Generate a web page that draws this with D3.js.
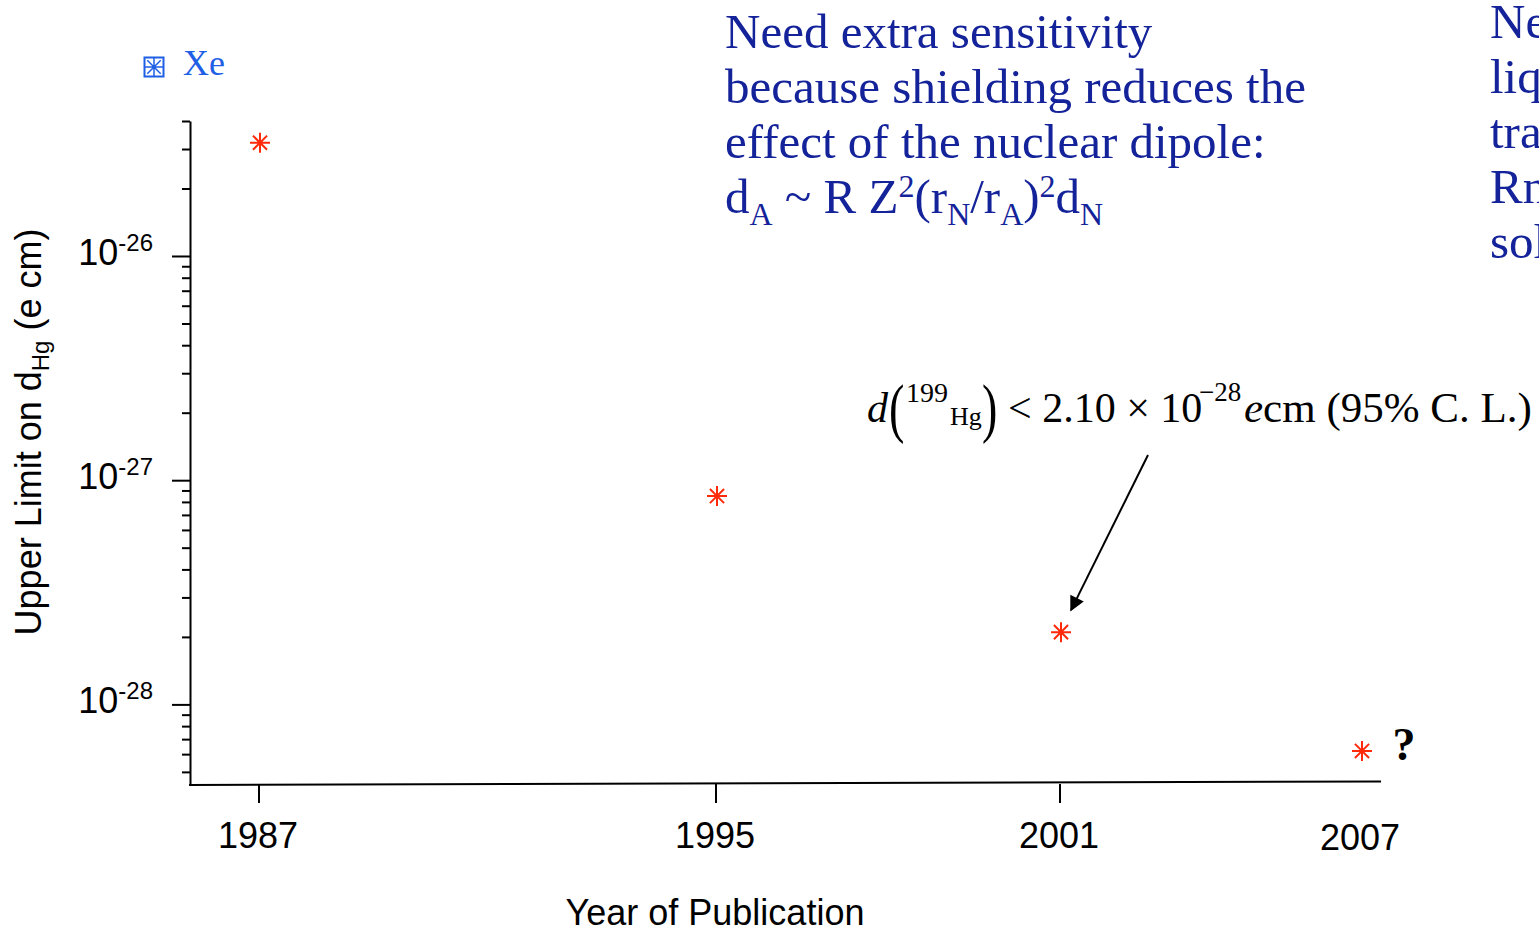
<!DOCTYPE html>
<html>
<head>
<meta charset="utf-8">
<script src="https://cdn.jsdelivr.net/npm/d3@7"></script>
<style>
  body { margin: 0; background: #fff; overflow: hidden; }
  text { font-kerning: normal; }
</style>
</head>
<body>
<svg id="chart" width="1539" height="931"></svg>
<script>
// Published upper limits on the 199Hg electric dipole moment (e cm)
const years = [1987, 1995, 2001, 2007];
const limits = [3.2e-26, 8.5e-28, 2.1e-28, 6.2e-29];
const tickedYears = [1987, 1995, 2001];
const yearLabels = ["1987", "1995", "2001", "2007"];
const decadeExponents = ["-26", "-27", "-28"];
const noteLines = [
  "Need extra sensitivity",
  "because shielding reduces the",
  "effect of the nuclear dipole:"
];
const sideLines = ["Ne", "liq", "tra", "Rn", "sol"];

const svg = d3.select("#chart");
const sans = "'Liberation Sans', Arial, Helvetica, sans-serif";
const serif = "'Liberation Serif', 'Times New Roman', serif";
const navy = "#14239a";
const red = "#ff2a0a";

// Year positions: uneven spacing along the axis
const x = d3.scaleLinear().domain(years).range([260, 717, 1061, 1362]);
const y = d3.scaleLog().domain([4.37e-29, 4e-26]).range([785, 121]);

// ---- y axis (log) with major/minor ticks
const isDecade = v => Math.abs(Math.log10(v) - Math.round(Math.log10(v))) < 1e-6;
const yAxis = d3.axisLeft(y)
  .tickValues(y.ticks())
  .tickSize(8)
  .tickSizeOuter(0)
  .tickFormat("");
const gy = svg.append("g").attr("transform", "translate(190,0)").call(yAxis);
gy.select(".domain").attr("stroke", "#000").attr("stroke-width", 2);
gy.selectAll(".tick line")
  .attr("stroke", "#000").attr("stroke-width", 2)
  .attr("x2", d => isDecade(d) ? -18 : -8);

// decade labels: 10^n
decadeExponents.forEach(e => {
  const v = Math.pow(10, +e);
  const t = svg.append("text")
    .attr("x", 153).attr("y", y(v) + 9)
    .attr("text-anchor", "end")
    .attr("font-family", sans).attr("font-size", 36).attr("fill", "#000");
  t.append("tspan").text("10");
  t.append("tspan").attr("font-size", 24).attr("dy", -14).text(e);
});

// ---- x axis
svg.append("line")
  .attr("x1", 189).attr("y1", 785).attr("x2", 1381).attr("y2", 781.5)
  .attr("stroke", "#000").attr("stroke-width", 2);
svg.append("g").selectAll("line").data(tickedYears).join("line")
  .attr("x1", d => x(d) - 1).attr("x2", d => x(d) - 1)
  .attr("y1", 784).attr("y2", 803)
  .attr("stroke", "#000").attr("stroke-width", 2);
svg.append("g").selectAll("text").data(years).join("text")
  .attr("x", d => x(d) - 2)
  .attr("y", (d, i) => i === 3 ? 850 : 848)
  .attr("text-anchor", "middle")
  .attr("font-family", sans).attr("font-size", 36).attr("fill", "#000")
  .text((d, i) => yearLabels[i]);

// axis titles
svg.append("text")
  .attr("x", 715).attr("y", 925)
  .attr("text-anchor", "middle")
  .attr("font-family", sans).attr("font-size", 36).attr("fill", "#000")
  .text("Year of Publication");

const yt = svg.append("text")
  .attr("transform", "translate(41,432) rotate(-90)")
  .attr("text-anchor", "middle")
  .attr("font-family", sans).attr("font-size", 36).attr("fill", "#000");
yt.append("tspan").text("Upper Limit on d");
yt.append("tspan").attr("font-size", 24).attr("dy", 8).text("Hg");
yt.append("tspan").attr("dy", -8).text(" (e cm)");

// ---- data markers: eight-armed asterisks
function asterisk(r) {
  const d = r * Math.SQRT1_2;
  return `M0,${-r}L0,${r}M${-r},0L${r},0M${-d},${-d}L${d},${d}M${-d},${d}L${d},${-d}`;
}
svg.append("g").selectAll("path").data(years).join("path")
  .attr("transform", (d, i) => `translate(${x(d)},${y(limits[i])})`)
  .attr("d", asterisk(10))
  .attr("fill", "none").attr("stroke", red).attr("stroke-width", 2);

// ---- legend entry for Xe
const lg = svg.append("g").attr("transform", "translate(154,67)");
lg.append("rect").attr("x", -9.5).attr("y", -9.5).attr("width", 19).attr("height", 19)
  .attr("fill", "none").attr("stroke", "#1f5fe6").attr("stroke-width", 2);
lg.append("path").attr("d", asterisk(9.5)).attr("fill", "none")
  .attr("stroke", "#1f5fe6").attr("stroke-width", 1.5);
svg.append("text").attr("x", 183).attr("y", 75)
  .attr("font-family", serif).attr("font-size", 36).attr("fill", "#1f5fe6")
  .text("Xe");

// ---- explanatory note
noteLines.forEach((s, i) => {
  svg.append("text").attr("x", 725).attr("y", 48 + i * 55)
    .attr("font-family", serif).attr("font-size", 49).attr("fill", navy)
    .text(s);
});
const eq = svg.append("text").attr("x", 725).attr("y", 213)
  .attr("font-family", serif).attr("font-size", 49).attr("fill", navy);
eq.append("tspan").text("d");
eq.append("tspan").attr("font-size", 32).attr("dy", 12).text("A");
eq.append("tspan").attr("dy", -12).text(" ~ R Z");
eq.append("tspan").attr("font-size", 32).attr("dy", -16).text("2");
eq.append("tspan").attr("dy", 16).text("(r");
eq.append("tspan").attr("font-size", 32).attr("dy", 12).text("N");
eq.append("tspan").attr("dy", -12).text("/r");
eq.append("tspan").attr("font-size", 32).attr("dy", 12).text("A");
eq.append("tspan").attr("dy", -12).text(")");
eq.append("tspan").attr("font-size", 32).attr("dy", -16).text("2");
eq.append("tspan").attr("dy", 16).text("d");
eq.append("tspan").attr("font-size", 32).attr("dy", 12).text("N");

// side column, running off the right edge
sideLines.forEach((s, i) => {
  svg.append("text").attr("x", 1490).attr("y", 38 + i * 55)
    .attr("font-family", serif).attr("font-size", 49).attr("fill", navy)
    .text(s);
});

// ---- 2001 result annotation
const note = svg.append("g").attr("font-family", serif).attr("fill", "#000");
note.append("text").attr("x", 867).attr("y", 422).attr("font-size", 42)
  .attr("font-style", "italic").text("d");
note.append("text").attr("transform", "translate(889,430) scale(0.7,1)")
  .attr("font-size", 66).text("(");
note.append("text").attr("x", 906).attr("y", 402).attr("font-size", 28).text("199");
note.append("text").attr("x", 950).attr("y", 425).attr("font-size", 26).text("Hg");
note.append("text").attr("transform", "translate(982,430) scale(0.7,1)")
  .attr("font-size", 66).text(")");
note.append("text").attr("x", 1008).attr("y", 422).attr("font-size", 42)
  .text("< 2.10 × 10");
note.append("text").attr("x", 1199).attr("y", 401).attr("font-size", 27).text("−28");
const tail = note.append("text").attr("x", 1244).attr("y", 422).attr("font-size", 43);
tail.append("tspan").attr("font-style", "italic").text("e");
tail.append("tspan").text("cm (95% C. L.)");

// arrow to the 2001 point
svg.append("defs").append("marker")
  .attr("id", "head").attr("viewBox", "0 0 10 10")
  .attr("refX", 9).attr("refY", 5)
  .attr("markerWidth", 9).attr("markerHeight", 7.5)
  .attr("markerUnits", "strokeWidth").attr("orient", "auto")
  .append("path").attr("d", "M0,0L10,5L0,10Z").attr("fill", "#000");
svg.append("line")
  .attr("x1", 1148).attr("y1", 455)
  .attr("x2", x(2001) + 10).attr("y2", y(2.1e-28) - 22)
  .attr("stroke", "#000").attr("stroke-width", 2)
  .attr("marker-end", "url(#head)");

// open question for the next measurement
svg.append("text").attr("x", 1404).attr("y", 760)
  .attr("text-anchor", "middle")
  .attr("font-family", serif).attr("font-size", 46).attr("font-weight", "bold")
  .attr("fill", "#000").text("?");
</script>
</body>
</html>
